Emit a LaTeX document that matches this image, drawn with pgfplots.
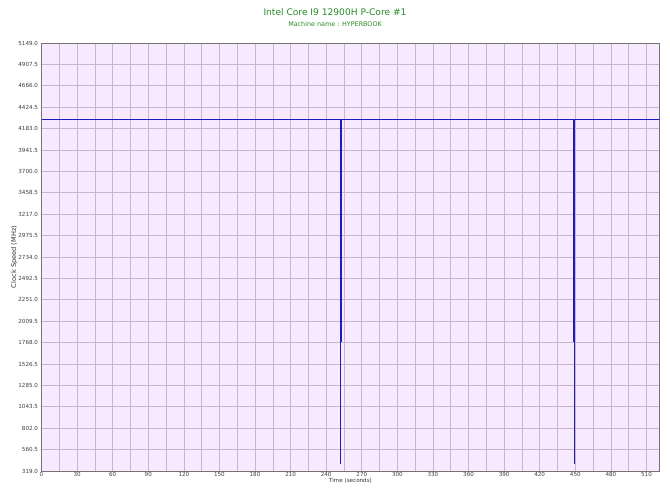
\documentclass[border=0pt]{standalone}
\usepackage{pgfplots}
\pgfplotsset{compat=1.18}
\usepackage{fontspec}
\setmainfont{DejaVu Sans}
\definecolor{bgc}{RGB}{247,234,255}
\definecolor{gridc}{RGB}{200,180,205}
\definecolor{titc}{RGB}{40,140,40}
\definecolor{linec}{RGB}{28,28,190}
\begin{document}
\begin{tikzpicture}[x=1pt,y=1pt]
\path (0,0) rectangle (670,502);
\node[text=titc,font=\fontsize{9.1}{10}\selectfont] at (335,490) {Intel Core I9 12900H P-Core \#1};
\node[text=titc,font=\fontsize{6.4}{7}\selectfont] at (335,478) {Machine name : HYPERBOOK};
\begin{axis}[
  at={(35,35)}, anchor=south west,
  scale only axis, width=618pt, height=428pt,
  xmin=0, xmax=521, ymin=319, ymax=5149,
  xtick={0,30,...,510}, minor x tick num=1,
  ytick={319,560.5,...,5149},
  yticklabel style={/pgf/number format/fixed,/pgf/number format/fixed zerofill,/pgf/number format/precision=1,/pgf/number format/1000 sep={}},
  /pgf/number format/assume math mode=true,
  ticklabel style={font=\fontsize{5.6}{6}\selectfont, text=black!75},
  xticklabel style={yshift=2pt},
  grid=both,
  major grid style={gridc, line width=0.6pt},
  minor grid style={gridc, line width=0.6pt},
  major tick length=0pt, minor tick length=0pt,
  axis background/.style={fill=bgc},
  axis line style={black!55, line width=0.7pt},
  xlabel={Time (seconds)}, ylabel={Clock Speed (MHz)},
  xlabel style={font=\fontsize{5.6}{6}\selectfont, text=black!80, yshift=5pt},
  ylabel style={font=\fontsize{6.6}{7}\selectfont, text=black!80, yshift=-6pt},
]
\addplot[linec, line width=1pt, line join=miter] coordinates {
(0,4290) (251.9,4290) (251.9,1775) (252.3,1775) (252.3,400) (252.3,1775) (252.7,1775) (252.7,4290)
(448.7,4290) (448.7,1775) (449.1,1775) (449.1,400) (449.1,1775) (449.5,1775) (449.5,4290) (521,4290)
};
\end{axis}
\end{tikzpicture}
\end{document}
